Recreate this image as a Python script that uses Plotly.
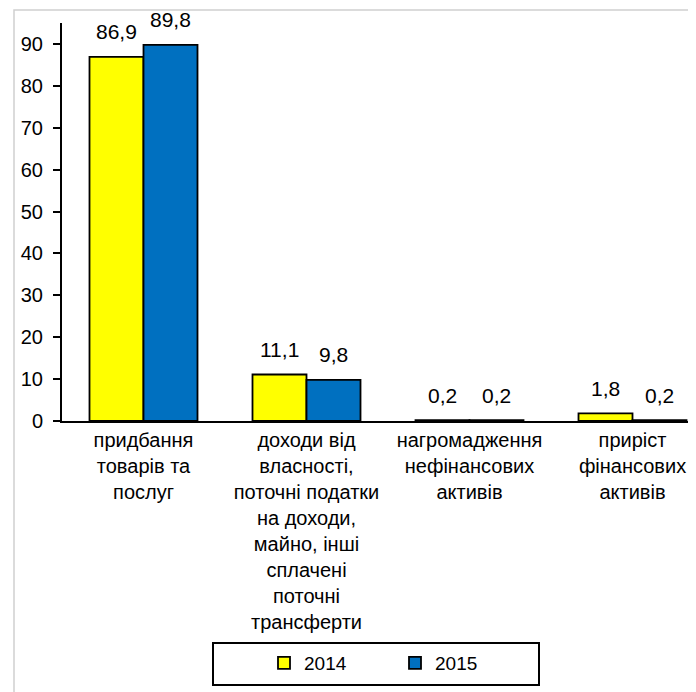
import plotly.graph_objects as go

categories = [
    "придбання<br>товарів та<br>послуг",
    "доходи від<br>власності,<br>поточні податки<br>на доходи,<br>майно, інші<br>сплачені<br>поточні<br>трансферти",
    "нагромадження<br>нефінансових<br>активів",
    "приріст<br>фінансових<br>активів",
]
values_2014 = [86.9, 11.1, 0.2, 1.8]
values_2015 = [89.8, 9.8, 0.2, 0.2]
series_names = ["2014", "2015"]
yticks = [0, 10, 20, 30, 40, 50, 60, 70, 80, 90]

FONT = "Liberation Sans"
W, H = 696, 692
# page is offset by 8px body margin; coordinates below are figure coords
L, T = 54, 15
PLOT_BOTTOM = 413
B = H - PLOT_BOTTOM
R = 0
pw = W - L - R
ph = H - T - B
CAT_PX = 163.0
BAR_PX = 54.0

fig = go.Figure()
fig.add_trace(go.Bar(
    x=categories, y=values_2014, name=series_names[0],
    marker=dict(color="#FFFF00", line=dict(color="black", width=1.8)),
))
fig.add_trace(go.Bar(
    x=categories, y=values_2015, name=series_names[1],
    marker=dict(color="#0070C0", line=dict(color="black", width=1.8)),
))

annotations = []
for vals, shift in ((values_2014, -BAR_PX / 2), (values_2015, BAR_PX / 2)):
    for c, v in zip(categories, vals):
        annotations.append(dict(
            x=c, y=v, xref="x", yref="y", xshift=shift, yshift=25,
            text=f"{v:.1f}".replace(".", ","), showarrow=False,
            xanchor="center", yanchor="middle",
            font=dict(family=FONT, size=21, color="black"),
        ))

def px_x(px):
    return (px - L) / pw

def px_y(py):
    return (PLOT_BOTTOM - py) / ph

fig.update_layout(
    width=W, height=H,
    margin=dict(l=L, r=R, t=T, b=B, autoexpand=False),
    paper_bgcolor="white", plot_bgcolor="white",
    barmode="group", bargap=1 - 2 * BAR_PX / CAT_PX, bargroupgap=0,
    font=dict(family=FONT, size=20, color="black"),
    showlegend=True,
    legend=dict(
        orientation="h", x=px_x(256), xanchor="left",
        y=px_y(655), yanchor="middle",
        borderwidth=0, bgcolor="rgba(0,0,0,0)",
        font=dict(family=FONT, size=19, color="black"),
        entrywidth=86, entrywidthmode="pixels", itemwidth=30,
        traceorder="normal",
    ),
    xaxis=dict(
        range=[-0.5, -0.5 + pw / CAT_PX],
        showline=True, linecolor="black", linewidth=2,
        ticks="", showgrid=False, tickfont=dict(family=FONT, size=20),
        automargin=False,
    ),
    yaxis=dict(
        range=[0, 95], tickvals=yticks,
        showline=True, linecolor="black", linewidth=2,
        ticks="outside", ticklen=7, tickwidth=2, tickcolor="black",
        ticklabelstandoff=6,
        showgrid=False, zeroline=False, tickfont=dict(family=FONT, size=20),
        automargin=False,
    ),
    annotations=annotations,
    shapes=[
        dict(
            type="rect", xref="paper", yref="paper",
            x0=px_x(6), x1=px_x(800), y0=px_y(800), y1=px_y(2),
            line=dict(color="#D0D0D0", width=1.5), fillcolor="rgba(0,0,0,0)",
            layer="below",
        ),
        dict(
            type="rect", xref="paper", yref="paper",
            x0=px_x(205), x1=px_x(531), y0=px_y(677), y1=px_y(635),
            line=dict(color="black", width=2), fillcolor="rgba(0,0,0,0)",
            layer="below",
        ),
    ],
)

fig.write_html("out.html")
